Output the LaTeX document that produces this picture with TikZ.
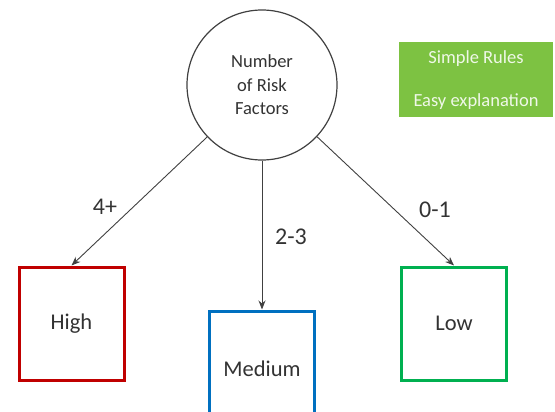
\documentclass[tikz,border=0pt]{standalone}
\usepackage{fontspec}
\setmainfont{Carlito}
\usetikzlibrary{arrows.meta}
\definecolor{riskred}{HTML}{C00000}
\definecolor{riskblue}{HTML}{0070C0}
\definecolor{riskgreen}{HTML}{00B050}
\definecolor{notegreen}{HTML}{7DC242}
\definecolor{linegray}{HTML}{404040}
\begin{document}
\begin{tikzpicture}[x=1pt,y=-1pt,
  level/.style={draw=#1, line width=3pt, minimum width=105pt, minimum height=113pt,
    font=\fontsize{22.5}{24}\selectfont, text=black!80, inner sep=0pt},
  factor/.style={draw=linegray, line width=1.2pt, circle, minimum size=150pt,
    inner sep=0pt, align=center, font=\fontsize{18.5}{23.5}\selectfont, text=black!80},
  branch/.style={draw=linegray, line width=0.9pt, -{Stealth[length=9pt,width=7pt]}},
  countlabel/.style={font=\fontsize{24}{26}\selectfont, text=black!80},
  note/.style={fill=notegreen, text=white!88!notegreen, minimum width=154pt,
    minimum height=75pt, align=center, font=\fontsize{18.5}{43}\selectfont, inner sep=0pt}]
\useasboundingbox (0,0) rectangle (555,412);
\begin{scope}
\clip (0,0) rectangle (555,412);
\node[factor] (risk) at (262,85) {Number\\of Risk\\Factors};
\node[note] (rules) at (476,80) {Simple Rules\\Easy explanation};
\node[level=riskred] (high) at (71.5,323.5) {High};
\node[level=riskblue] (medium) at (262,367.5) {};
\node[level=riskgreen] (low) at (454,323.5) {Low};
\node[font=\fontsize{22.5}{24}\selectfont, text=black!80] (mediumtext) at (262,369) {Medium};
\draw[branch] (risk) -- (high.north);
\draw[branch] (risk) -- (medium.north);
\draw[branch] (risk) -- (low.north);
\node[countlabel] (four) at (105,207) {4+};
\node[countlabel] (two) at (291,237) {2-3};
\node[countlabel] (zero) at (435,210) {0-1};
\end{scope}
\end{tikzpicture}
\end{document}
